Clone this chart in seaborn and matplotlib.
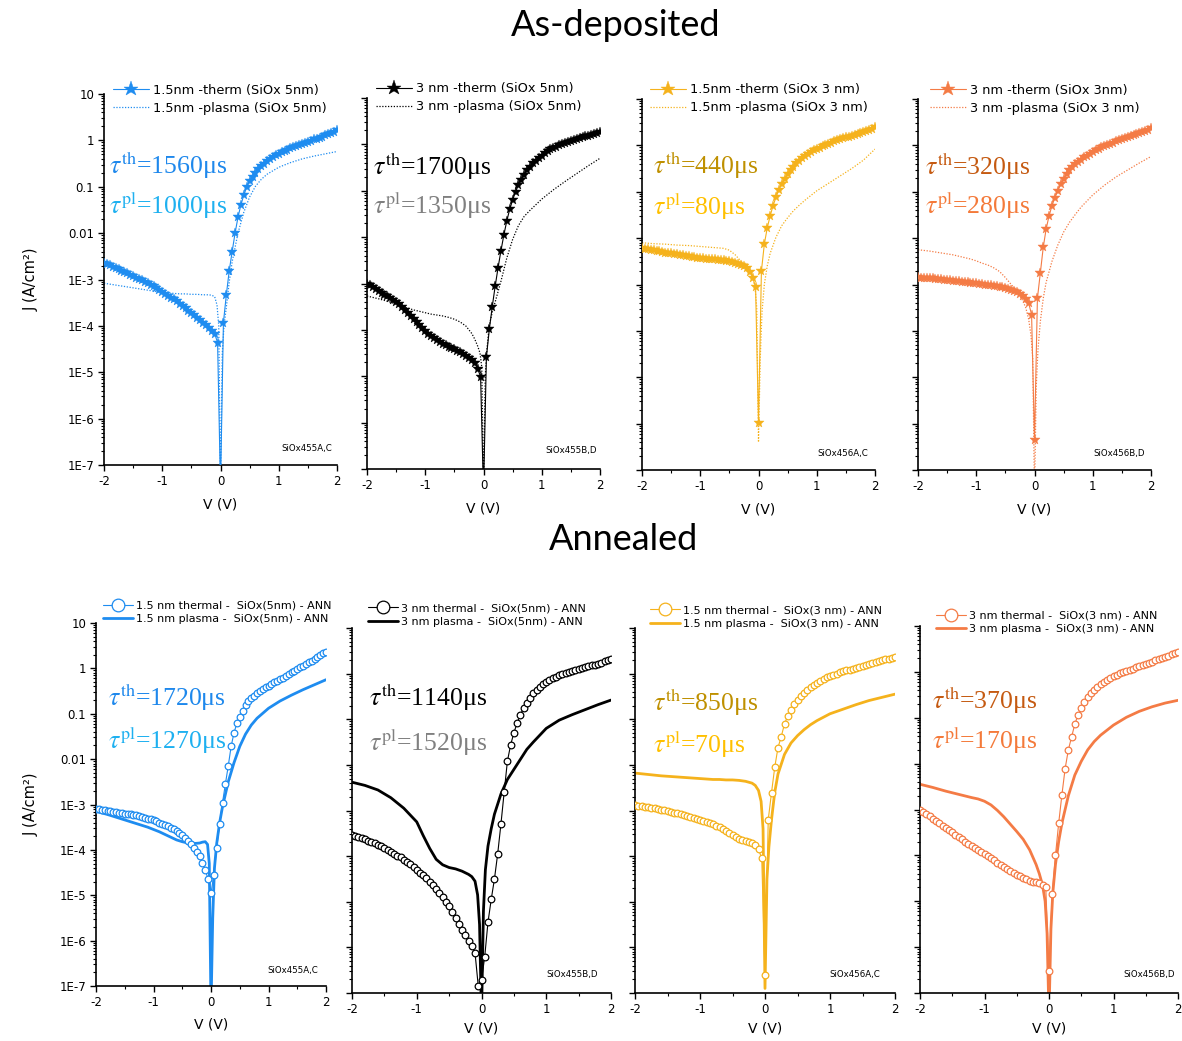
import numpy as np
import matplotlib
matplotlib.use("Agg")
import matplotlib.pyplot as plt
import seaborn as sns
from matplotlib.ticker import FixedLocator, LogLocator, NullFormatter, MultipleLocator

# ---------------------------------------------------------------------------
# J-V data, stored as log10(J) with J in A/cm^2
# thermal curves: 50 mV sweep from -2 V to +2 V (81 points)
# plasma curves: sampled on V_LINE
# ---------------------------------------------------------------------------
V_SWEEP = np.linspace(-2.0, 2.0, 81)
V_LINE = [-2.0, -1.8, -1.6, -1.4, -1.2, -1.1, -1.0, -0.9, -0.8, -0.7,
          -0.6, -0.5, -0.4, -0.3, -0.2, -0.15, -0.1, -0.06, -0.03,
          0.0,
          0.03, 0.06, 0.1, 0.15, 0.2, 0.3, 0.4, 0.5, 0.6, 0.7, 0.8, 1.0,
          1.2, 1.4, 1.6, 1.8, 2.0]

# ---- as-deposited, thermal (stars) ----
LOGJ_TH_AD_155 = [
    -2.64, -2.66, -2.69, -2.72, -2.75, -2.78, -2.81, -2.84, -2.87, -2.90,
    -2.93, -2.96, -2.99, -3.02, -3.05, -3.08, -3.12, -3.15, -3.19, -3.23,
    -3.27, -3.31, -3.35, -3.39, -3.43, -3.47, -3.52, -3.57, -3.62, -3.67,
    -3.72, -3.77, -3.82, -3.87, -3.93, -3.98, -4.04, -4.10, -4.17, -4.36,
    -7.50,
    -3.93, -3.33, -2.81, -2.40, -2.00, -1.66, -1.39, -1.18, -1.01, -0.88,
    -0.78, -0.70, -0.62, -0.56, -0.50, -0.45, -0.40, -0.36, -0.32, -0.29,
    -0.26, -0.23, -0.20, -0.17, -0.14, -0.12, -0.09, -0.07, -0.05, -0.03,
    -0.01, 0.02, 0.04, 0.06, 0.08, 0.11, 0.13, 0.16, 0.19, 0.22]
LOGJ_TH_AD_355 = [
    -3.00, -3.04, -3.08, -3.12, -3.16, -3.20, -3.24, -3.27, -3.31, -3.35,
    -3.40, -3.45, -3.51, -3.57, -3.63, -3.70, -3.76, -3.83, -3.90, -3.96,
    -4.03, -4.08, -4.13, -4.18, -4.22, -4.26, -4.30, -4.33, -4.36, -4.39,
    -4.42, -4.45, -4.48, -4.52, -4.56, -4.60, -4.65, -4.72, -4.84, -5.01,
    -7.50,
    -4.58, -3.99, -3.50, -3.06, -2.66, -2.29, -1.95, -1.65, -1.40, -1.20,
    -1.02, -0.88, -0.76, -0.65, -0.56, -0.48, -0.41, -0.35, -0.29, -0.24,
    -0.19, -0.15, -0.11, -0.08, -0.05, -0.02, 0.01, 0.03, 0.05, 0.07,
    0.09, 0.11, 0.13, 0.15, 0.17, 0.19, 0.21, 0.23, 0.25, 0.27]
LOGJ_TH_AD_153 = [
    -2.22, -2.23, -2.24, -2.25, -2.26, -2.27, -2.28, -2.30, -2.31, -2.32,
    -2.33, -2.34, -2.35, -2.36, -2.37, -2.38, -2.39, -2.40, -2.41, -2.42,
    -2.42, -2.43, -2.44, -2.45, -2.45, -2.46, -2.47, -2.48, -2.48, -2.49,
    -2.50, -2.51, -2.53, -2.55, -2.57, -2.60, -2.65, -2.72, -2.85, -3.06,
    -5.99,
    -2.71, -2.13, -1.78, -1.52, -1.30, -1.12, -0.96, -0.83, -0.72, -0.62,
    -0.53, -0.46, -0.39, -0.33, -0.28, -0.23, -0.19, -0.15, -0.11, -0.08,
    -0.05, -0.02, 0.01, 0.04, 0.06, 0.09, 0.11, 0.13, 0.15, 0.17,
    0.19, 0.21, 0.23, 0.25, 0.27, 0.29, 0.31, 0.34, 0.36, 0.39]
LOGJ_TH_AD_353 = [
    -2.84, -2.85, -2.85, -2.86, -2.87, -2.87, -2.88, -2.89, -2.89, -2.90,
    -2.91, -2.91, -2.92, -2.93, -2.93, -2.94, -2.95, -2.95, -2.96, -2.97,
    -2.97, -2.98, -2.99, -3.00, -3.01, -3.02, -3.03, -3.04, -3.05, -3.06,
    -3.07, -3.09, -3.11, -3.13, -3.16, -3.20, -3.25, -3.31, -3.40, -3.65,
    -6.36,
    -3.30, -2.75, -2.20, -1.80, -1.52, -1.30, -1.13, -0.98, -0.84, -0.72,
    -0.62, -0.54, -0.47, -0.41, -0.36, -0.31, -0.26, -0.22, -0.18, -0.14,
    -0.11, -0.08, -0.04, -0.02, 0.01, 0.04, 0.06, 0.09, 0.11, 0.13,
    0.15, 0.18, 0.20, 0.22, 0.25, 0.27, 0.29, 0.32, 0.34, 0.37]

# ---- as-deposited, plasma (dotted) ----
LOGJ_PL_AD_155 = [
    -3.08, -3.12, -3.16, -3.20, -3.24, -3.26, -3.28, -3.29, -3.30, -3.31,
    -3.31, -3.32, -3.32, -3.33, -3.33, -3.34, -3.37, -3.55, -4.00,
    -7.50,
    -4.60, -4.00, -3.60, -3.05, -2.62, -2.00, -1.55, -1.22, -0.99, -0.84,
    -0.73, -0.58, -0.48, -0.40, -0.34, -0.29, -0.24]
LOGJ_PL_AD_355 = [
    -3.27, -3.33, -3.40, -3.49, -3.57, -3.60, -3.63, -3.66, -3.68, -3.70,
    -3.73, -3.77, -3.83, -3.92, -4.08, -4.20, -4.35, -4.50, -4.80,
    -7.50,
    -5.00, -4.40, -3.90, -3.62, -3.40, -2.95, -2.45, -2.05, -1.75, -1.55,
    -1.42, -1.18, -0.98, -0.80, -0.63, -0.46, -0.30]
LOGJ_PL_AD_153 = [
    -2.10, -2.12, -2.13, -2.15, -2.16, -2.17, -2.18, -2.19, -2.20, -2.21,
    -2.22, -2.26, -2.36, -2.50, -2.62, -2.70, -2.85, -3.05, -3.50,
    -6.40,
    -4.60, -3.60, -3.00, -2.60, -2.33, -1.98, -1.73, -1.56, -1.41, -1.29,
    -1.18, -0.98, -0.82, -0.66, -0.50, -0.32, -0.08]
LOGJ_PL_AD_353 = [
    -2.25, -2.28, -2.32, -2.36, -2.42, -2.45, -2.49, -2.54, -2.58, -2.64,
    -2.72, -2.85, -3.00, -3.15, -3.35, -3.50, -3.75, -4.10, -4.60,
    -7.50,
    -5.20, -4.40, -3.80, -3.30, -2.95, -2.50, -2.15, -1.87, -1.66, -1.49,
    -1.33, -1.07, -0.86, -0.68, -0.53, -0.38, -0.24]

# ---- annealed, thermal (open circles) ----
LOGJ_TH_AN_155 = [
    -3.10, -3.11, -3.12, -3.13, -3.14, -3.15, -3.16, -3.17, -3.18, -3.19,
    -3.20, -3.21, -3.22, -3.23, -3.24, -3.26, -3.28, -3.29, -3.31, -3.33,
    -3.35, -3.37, -3.40, -3.42, -3.45, -3.48, -3.51, -3.54, -3.58, -3.63,
    -3.68, -3.74, -3.80, -3.87, -3.95, -4.04, -4.14, -4.28, -4.44, -4.65,
    -4.95,
    -4.55, -3.95, -3.42, -2.96, -2.55, -2.15, -1.72, -1.42, -1.21, -1.07,
    -0.93, -0.80, -0.73, -0.66, -0.60, -0.55, -0.50, -0.46, -0.42, -0.38,
    -0.35, -0.31, -0.28, -0.24, -0.21, -0.17, -0.13, -0.09, -0.06, -0.02,
    0.02, 0.06, 0.09, 0.13, 0.17, 0.21, 0.25, 0.29, 0.33, 0.37]
LOGJ_TH_AN_355 = [
    -3.53, -3.55, -3.58, -3.60, -3.63, -3.66, -3.69, -3.72, -3.75, -3.78,
    -3.82, -3.86, -3.90, -3.95, -3.99, -4.03, -4.08, -4.13, -4.18, -4.24,
    -4.30, -4.36, -4.42, -4.49, -4.56, -4.64, -4.72, -4.81, -4.90, -5.00,
    -5.10, -5.22, -5.35, -5.48, -5.61, -5.73, -5.86, -5.98, -6.12, -6.85,
    -6.72,
    -6.20, -5.45, -4.95, -4.50, -3.95, -3.30, -2.60, -1.92, -1.56, -1.30,
    -1.08, -0.90, -0.76, -0.64, -0.53, -0.43, -0.36, -0.29, -0.23, -0.18,
    -0.14, -0.10, -0.07, -0.04, -0.01, 0.01, 0.04, 0.06, 0.08, 0.10,
    0.12, 0.14, 0.16, 0.18, 0.20, 0.22, 0.24, 0.27, 0.29, 0.31]
LOGJ_TH_AN_153 = [
    -2.89, -2.90, -2.91, -2.92, -2.93, -2.94, -2.95, -2.96, -2.98, -2.99,
    -3.01, -3.03, -3.05, -3.06, -3.08, -3.10, -3.12, -3.14, -3.16, -3.18,
    -3.20, -3.22, -3.25, -3.27, -3.30, -3.34, -3.37, -3.41, -3.45, -3.50,
    -3.54, -3.58, -3.62, -3.65, -3.67, -3.69, -3.72, -3.76, -3.85, -4.05,
    -6.61,
    -3.20, -2.61, -2.05, -1.62, -1.38, -1.10, -0.93, -0.79, -0.67, -0.57,
    -0.49, -0.42, -0.35, -0.29, -0.24, -0.20, -0.16, -0.12, -0.08, -0.05,
    -0.02, 0.00, 0.03, 0.05, 0.07, 0.09, 0.11, 0.13, 0.15, 0.17,
    0.19, 0.21, 0.23, 0.25, 0.27, 0.29, 0.31, 0.33, 0.35, 0.37]
LOGJ_TH_AN_353 = [
    -3.00, -3.05, -3.10, -3.15, -3.20, -3.25, -3.30, -3.35, -3.40, -3.45,
    -3.50, -3.55, -3.60, -3.65, -3.70, -3.75, -3.79, -3.84, -3.88, -3.93,
    -3.97, -4.02, -4.06, -4.11, -4.16, -4.21, -4.26, -4.30, -4.34, -4.38,
    -4.42, -4.46, -4.49, -4.52, -4.55, -4.57, -4.59, -4.61, -4.64, -4.70,
    -6.52,
    -4.85, -4.00, -3.30, -2.68, -2.11, -1.70, -1.42, -1.14, -0.94, -0.78,
    -0.65, -0.55, -0.46, -0.39, -0.33, -0.27, -0.22, -0.17, -0.13, -0.09,
    -0.06, -0.03, 0.00, 0.02, 0.05, 0.07, 0.10, 0.12, 0.15, 0.17,
    0.20, 0.22, 0.25, 0.27, 0.30, 0.33, 0.35, 0.38, 0.41, 0.43]

# ---- annealed, plasma (solid) ----
LOGJ_PL_AN_155 = [
    -3.15, -3.22, -3.30, -3.38, -3.46, -3.50, -3.55, -3.60, -3.66, -3.72,
    -3.78, -3.82, -3.85, -3.86, -3.85, -3.83, -3.82, -3.88, -4.30,
    -7.50,
    -5.50, -4.40, -3.85, -3.40, -3.05, -2.50, -2.08, -1.72, -1.45, -1.25,
    -1.10, -0.88, -0.72, -0.59, -0.47, -0.36, -0.25]
LOGJ_PL_AN_355 = [
    -2.38, -2.45, -2.55, -2.72, -2.95, -3.10, -3.25, -3.55, -3.83, -4.07,
    -4.19, -4.25, -4.28, -4.33, -4.40, -4.45, -4.55, -4.85, -5.50,
    -7.50,
    -5.20, -4.30, -3.78, -3.40, -3.08, -2.64, -2.32, -2.10, -1.88, -1.66,
    -1.50, -1.20, -1.02, -0.90, -0.79, -0.68, -0.58]
LOGJ_PL_AN_153 = [
    -2.18, -2.21, -2.24, -2.26, -2.28, -2.29, -2.30, -2.31, -2.32, -2.32,
    -2.33, -2.33, -2.34, -2.36, -2.40, -2.45, -2.56, -2.80, -3.40,
    -6.90,
    -4.50, -3.80, -3.20, -2.60, -2.20, -1.77, -1.52, -1.36, -1.23, -1.12,
    -1.03, -0.88, -0.78, -0.68, -0.59, -0.52, -0.45]
LOGJ_PL_AN_353 = [
    -2.45, -2.52, -2.60, -2.67, -2.74, -2.77, -2.82, -2.90, -3.02, -3.16,
    -3.32, -3.48, -3.65, -3.88, -4.20, -4.40, -4.65, -5.00, -5.70,
    -7.50,
    -5.60, -4.80, -4.20, -3.70, -3.30, -2.70, -2.25, -1.95, -1.70, -1.52,
    -1.38, -1.16, -0.99, -0.86, -0.76, -0.68, -0.62]

# fitted lifetimes (us): (thermal, plasma)
TAU_AD = [("1560", "1000"), ("1700", "1350"), ("440", "80"), ("320", "280")]
TAU_AN = [("1720", "1270"), ("1140", "1520"), ("850", "70"), ("370", "170")]

LABELS_AD = [("1.5nm -therm (SiOx 5nm)", "1.5nm -plasma (SiOx 5nm)"),
             ("3 nm -therm (SiOx 5nm)", "3 nm -plasma (SiOx 5nm)"),
             ("1.5nm -therm (SiOx 3 nm)", "1.5nm -plasma (SiOx 3 nm)"),
             ("3 nm -therm (SiOx 3nm)", "3 nm -plasma (SiOx 3 nm)")]
LABELS_AN = [("1.5 nm thermal -  SiOx(5nm) - ANN", "1.5 nm plasma -  SiOx(5nm) - ANN"),
             ("3 nm thermal -  SiOx(5nm) - ANN", "3 nm plasma -  SiOx(5nm) - ANN"),
             ("1.5 nm thermal -  SiOx(3 nm) - ANN", "1.5 nm plasma -  SiOx(3 nm) - ANN"),
             ("3 nm thermal -  SiOx(3 nm) - ANN", "3 nm plasma -  SiOx(3 nm) - ANN")]
SAMPLES = ["SiOx455A,C", "SiOx455B,D", "SiOx456A,C", "SiOx456B,D"]

Y_TICKS = [1e-7, 1e-6, 1e-5, 1e-4, 1e-3, 1e-2, 1e-1, 1, 10]
Y_TICK_LABELS = ["1E-7", "1E-6", "1E-5", "1E-4", "1E-3", "0.01", "0.1", "1", "10"]
X_TICKS = [-2, -1, 0, 1, 2]

# ---------------------------------------------------------------------------
# styling
# ---------------------------------------------------------------------------
sns.set_theme(style="ticks", rc={
    "axes.edgecolor": "black", "xtick.color": "black", "ytick.color": "black",
    "text.color": "black", "axes.labelcolor": "black", "axes.linewidth": 1.2,
})
plt.rcParams["font.family"] = ["DejaVu Sans"]
plt.rcParams["mathtext.fontset"] = "stix"
plt.rcParams["axes.unicode_minus"] = False

BLUE, BLACK, GOLD, CORAL = "#1E8CF0", "#000000", "#F5B21C", "#F47B45"
SERIES_COLORS = [BLUE, BLACK, GOLD, CORAL]
TAU_COLORS = [("#1E88EC", "#1EB0F0"), ("#000000", "#808080"),
              ("#BF9000", "#FFC000"), ("#C55A11", "#F47A3A")]

W, H = 1182, 1041
fig = plt.figure(figsize=(W / 100, H / 100), dpi=100)
fig.patch.set_facecolor("white")

# panel layout in pixels: (left, top, right, bottom)
BOX_AD = [(104, 94, 337, 465), (367, 98, 600, 469), (642, 99, 875, 470), (918, 99, 1151, 470)]
BOX_AN = [(96, 623, 326, 986), (352, 628, 611, 993), (635, 628, 895, 993), (920, 626, 1178, 993)]
LEG_AD = [(0.04, 1.028), (0.039, 1.043), (0.034, 1.043), (0.05, 1.041)]
LEG_AN = [(0.03, 1.062), (0.062, 1.068), (0.058, 1.062), (0.062, 1.042)]
TAU_POS_AD = [(109, 165, 205), (373, 166, 205), (653, 165, 206), (925, 166, 205)]
TAU_POS_AN = [(108, 697, 740), (369, 697, 742), (653, 702, 744), (932, 700, 740)]
SAMPLE_POS_AD = [(0.98, 0.032), (0.987, 0.038), (0.97, 0.032), (0.974, 0.032)]
SAMPLE_POS_AN = [(0.965, 0.03), (0.95, 0.038), (0.942, 0.038), (0.988, 0.038)]
XLABEL_Y_AD = [-0.088, -0.088, -0.088, -0.088]
XLABEL_Y_AN = [-0.088, -0.079, -0.079, -0.079]


def draw_panel(i, annealed, th, pl):
    box = (BOX_AN if annealed else BOX_AD)[i]
    x0, y0, x1, y1 = box
    ax = fig.add_axes([x0 / W, 1 - y1 / H, (x1 - x0) / W, (y1 - y0) / H])
    ax.set_facecolor("none")
    ax.set_yscale("log")
    c = SERIES_COLORS[i]
    lab_th, lab_pl = (LABELS_AN if annealed else LABELS_AD)[i]
    j_th = 10.0 ** np.asarray(th)
    j_pl = 10.0 ** np.asarray(pl)

    if annealed:
        sns.lineplot(x=V_LINE, y=j_pl, ax=ax, estimator=None, sort=False,
                     color=c, linewidth=2.0, label=lab_pl, zorder=2)
        sns.lineplot(x=V_SWEEP, y=j_th, ax=ax, estimator=None, sort=False,
                     color=c, linewidth=0.8, marker="o", markersize=4.8,
                     markerfacecolor="white", markeredgecolor=c,
                     markeredgewidth=0.9, label=lab_th, zorder=3)
        leg_fs, leg_hl, leg_ls, leg_ms = 8.0, 2.7, 0.3, 1.9
    else:
        sns.lineplot(x=V_LINE, y=j_pl, ax=ax, estimator=None, sort=False,
                     color=c, linewidth=0.9, linestyle=(0, (1, 1.3)),
                     label=lab_pl, zorder=2)
        sns.lineplot(x=V_SWEEP, y=j_th, ax=ax, estimator=None, sort=False,
                     color=c, linewidth=0.8, marker="*", markersize=7.5,
                     markerfacecolor=c, markeredgecolor=c,
                     markeredgewidth=0.3, label=lab_th, zorder=3)
        leg_fs, leg_hl, leg_ls, leg_ms = 9.3, 2.8, 0.4, 1.5
    handles, labels = ax.get_legend_handles_labels()
    order = [1, 0]

    ax.set_xlim(-2, 2)
    ax.set_ylim(1e-7, 10)

    ax.legend([handles[k] for k in order], [labels[k] for k in order],
              loc="upper left", bbox_to_anchor=(LEG_AN if annealed else LEG_AD)[i],
              frameon=False, fontsize=leg_fs, handlelength=leg_hl,
              handletextpad=0.3, labelspacing=leg_ls, borderpad=0,
              borderaxespad=0, markerscale=leg_ms)

    # axes, ticks
    sns.despine(ax=ax)
    ax.xaxis.set_major_locator(FixedLocator(X_TICKS))
    ax.xaxis.set_minor_locator(MultipleLocator(0.5))
    ax.set_xticklabels([str(t) for t in X_TICKS])
    ax.yaxis.set_major_locator(FixedLocator(Y_TICKS))
    ax.yaxis.set_minor_locator(LogLocator(base=10, subs=np.arange(2, 10), numticks=30))
    ax.yaxis.set_minor_formatter(NullFormatter())
    if i == 0:
        ax.set_yticklabels(Y_TICK_LABELS)
        ax.set_ylabel("J (A/cm²)", fontsize=10.5)
        ax.yaxis.set_label_coords(-0.282 if not annealed else -0.25, 0.5)
    else:
        ax.set_yticklabels([])
    ax.tick_params(axis="both", which="major", direction="out", length=4,
                   width=1.0, labelsize=8.5, pad=3)
    ax.tick_params(axis="both", which="minor", direction="out", length=2,
                   width=0.8)
    ax.set_xlabel("V (V)", fontsize=10)
    ax.xaxis.set_label_coords(0.5, (XLABEL_Y_AN if annealed else XLABEL_Y_AD)[i])

    sx, sy = (SAMPLE_POS_AN if annealed else SAMPLE_POS_AD)[i]
    ax.text(sx, sy, SAMPLES[i], transform=ax.transAxes, ha="right",
            va="bottom", fontsize=6.2)

    # lifetimes
    tx, ty_th, ty_pl = (TAU_POS_AN if annealed else TAU_POS_AD)[i]
    tau_th, tau_pl = (TAU_AN if annealed else TAU_AD)[i]
    c_th, c_pl = TAU_COLORS[i]
    fig.text(tx / W, 1 - ty_th / H, r"$\tau^{\mathrm{th}}$=" + tau_th + "μs",
             ha="left", va="center", fontsize=18.5, color=c_th,
             family=["Liberation Serif", "DejaVu Serif"])
    fig.text(tx / W, 1 - ty_pl / H, r"$\tau^{\mathrm{pl}}$=" + tau_pl + "μs",
             ha="left", va="center", fontsize=18.5, color=c_pl,
             family=["Liberation Serif", "DejaVu Serif"])
    return ax


AD_TH = [LOGJ_TH_AD_155, LOGJ_TH_AD_355, LOGJ_TH_AD_153, LOGJ_TH_AD_353]
AD_PL = [LOGJ_PL_AD_155, LOGJ_PL_AD_355, LOGJ_PL_AD_153, LOGJ_PL_AD_353]
AN_TH = [LOGJ_TH_AN_155, LOGJ_TH_AN_355, LOGJ_TH_AN_153, LOGJ_TH_AN_353]
AN_PL = [LOGJ_PL_AN_155, LOGJ_PL_AN_355, LOGJ_PL_AN_153, LOGJ_PL_AN_353]

for k in range(4):
    draw_panel(k, False, AD_TH[k], AD_PL[k])
    draw_panel(k, True, AN_TH[k], AN_PL[k])

fig.text(616 / W, 1 - 25 / H, "As-deposited", ha="center", va="center",
         fontsize=26, family=["Lato", "DejaVu Sans"])
fig.text(624 / W, 1 - 540 / H, "Annealed", ha="center", va="center",
         fontsize=26, family=["Lato", "DejaVu Sans"])

fig.savefig("out.png", dpi=100, facecolor="white")
